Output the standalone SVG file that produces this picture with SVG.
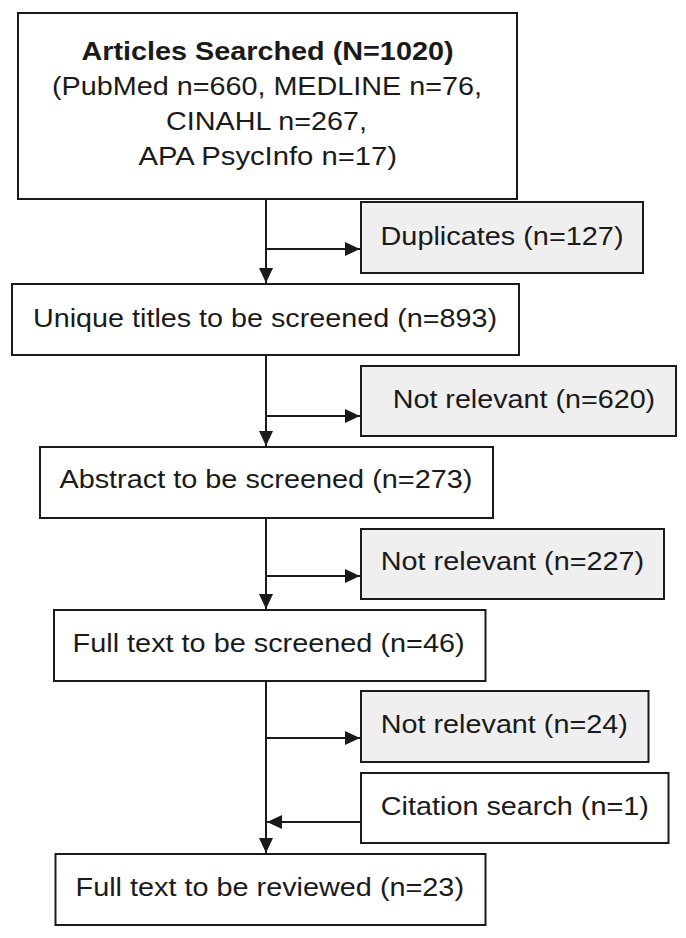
<svg xmlns="http://www.w3.org/2000/svg" width="686" height="938" viewBox="0 0 686 938">
<style>
.box{fill:#ffffff;stroke:#1a1a1a;stroke-width:2}
.gray{fill:#efefef;stroke:#1a1a1a;stroke-width:2}
.t{font-family:"Liberation Sans",Arial,sans-serif;font-size:26px;fill:#1a1a1a}
.b{font-weight:bold}
.ln{fill:none;stroke:#1a1a1a;stroke-width:2}
</style>
<defs>
<marker id="ah" viewBox="0 0 15 14" refX="15" refY="7" markerWidth="15" markerHeight="14" markerUnits="userSpaceOnUse" orient="auto">
<path d="M0,0 L15,7 L0,14 Z" fill="#1a1a1a"/>
</marker>
</defs>
<rect width="686" height="938" fill="#ffffff"/>
<g id="connectors">
<line class="ln" x1="266" y1="199" x2="266" y2="283" marker-end="url(#ah)"/>
<line class="ln" x1="266" y1="249" x2="360" y2="249" marker-end="url(#ah)"/>
<line class="ln" x1="266" y1="355" x2="266" y2="446" marker-end="url(#ah)"/>
<line class="ln" x1="266" y1="416" x2="360" y2="416" marker-end="url(#ah)"/>
<line class="ln" x1="266" y1="518" x2="266" y2="609" marker-end="url(#ah)"/>
<line class="ln" x1="266" y1="576" x2="360" y2="576" marker-end="url(#ah)"/>
<line class="ln" x1="266" y1="681" x2="266" y2="853" marker-end="url(#ah)"/>
<line class="ln" x1="266" y1="738" x2="360" y2="738" marker-end="url(#ah)"/>
<line class="ln" x1="361" y1="822" x2="267" y2="822" marker-end="url(#ah)"/>
</g>
<g id="n-articles">
<rect class="box" x="18" y="13" width="499" height="186"/>
<text class="t b" x="81.5" y="60" textLength="372" lengthAdjust="spacingAndGlyphs">Articles Searched (N=1020)</text>
<text class="t" x="52" y="94.5" textLength="430" lengthAdjust="spacingAndGlyphs">(PubMed n=660, MEDLINE n=76,</text>
<text class="t" x="166" y="130" textLength="201" lengthAdjust="spacingAndGlyphs">CINAHL n=267,</text>
<text class="t" x="138.5" y="164.5" textLength="258.5" lengthAdjust="spacingAndGlyphs">APA PsycInfo n=17)</text>
</g>
<g id="n-duplicates">
<rect class="gray" x="361" y="202" width="282" height="71"/>
<text class="t" x="380.5" y="245" textLength="243" lengthAdjust="spacingAndGlyphs">Duplicates (n=127)</text>
</g>
<g id="n-unique">
<rect class="box" x="12" y="284" width="507" height="71"/>
<text class="t" x="33" y="327" textLength="464" lengthAdjust="spacingAndGlyphs">Unique titles to be screened (n=893)</text>
</g>
<g id="n-nr620">
<rect class="gray" x="361" y="366" width="315" height="70"/>
<text class="t" x="392.7" y="408" textLength="262.5" lengthAdjust="spacingAndGlyphs">Not relevant (n=620)</text>
</g>
<g id="n-abstract">
<rect class="box" x="40" y="447" width="453" height="71"/>
<text class="t" x="59.4" y="488" textLength="413" lengthAdjust="spacingAndGlyphs">Abstract to be screened (n=273)</text>
</g>
<g id="n-nr227">
<rect class="gray" x="361" y="529" width="303" height="70"/>
<text class="t" x="380.8" y="570" textLength="263.4" lengthAdjust="spacingAndGlyphs">Not relevant (n=227)</text>
</g>
<g id="n-fulltext">
<rect class="box" x="54" y="610" width="431.5" height="71"/>
<text class="t" x="72.6" y="652" textLength="392" lengthAdjust="spacingAndGlyphs">Full text to be screened (n=46)</text>
</g>
<g id="n-nr24">
<rect class="gray" x="361" y="691" width="287.5" height="71"/>
<text class="t" x="380.8" y="733" textLength="247" lengthAdjust="spacingAndGlyphs">Not relevant (n=24)</text>
</g>
<g id="n-citation">
<rect class="box" x="361" y="773" width="307.5" height="70"/>
<text class="t" x="380.8" y="814.5" textLength="268" lengthAdjust="spacingAndGlyphs">Citation search (n=1)</text>
</g>
<g id="n-reviewed">
<rect class="box" x="55.5" y="854" width="430" height="71"/>
<text class="t" x="75.6" y="895.5" textLength="388.4" lengthAdjust="spacingAndGlyphs">Full text to be reviewed (n=23)</text>
</g>
</svg>
